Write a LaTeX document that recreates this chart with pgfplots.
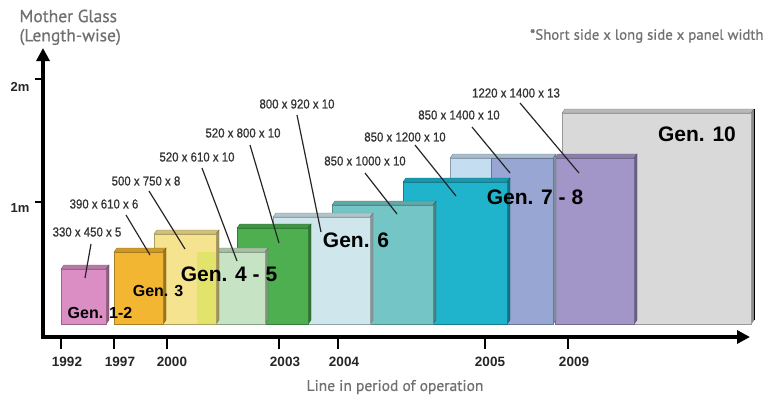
\documentclass[border=0pt]{standalone}
\usepackage{pgfplots}
\pgfplotsset{compat=1.18}
\usepackage{fontspec}
\setmainfont{Liberation Sans}
\newfontfamily\din[FakeBold=0.6]{PT Sans}
\newfontfamily\narrow[FakeStretch=0.88,FakeBold=0.8]{Liberation Sans}
\usetikzlibrary{arrows.meta}

\definecolor{cpink}{HTML}{DA8EC4}
\definecolor{corange}{HTML}{F2B632}
\definecolor{cyellow}{HTML}{F6E38F}
\definecolor{cyg}{HTML}{E2E36B}
\definecolor{clgreen}{HTML}{C6E3C3}
\definecolor{cgreen}{HTML}{4DAF50}
\definecolor{clblue}{HTML}{CFE7EC}
\definecolor{cteal}{HTML}{73C6C5}
\definecolor{ccyan}{HTML}{1FB3CC}
\definecolor{clblueb}{HTML}{C4DDF0}
\definecolor{cperi}{HTML}{97A6D2}
\definecolor{cpurple}{HTML}{A295C8}
\definecolor{cgray}{HTML}{D9D9D9}
\definecolor{txtgray}{HTML}{707070}

% glass box: x-left, x-right, top (image px from top), colour
\newcommand{\gbox}[4]{%
  \pgfmathsetmacro{\bT}{397-#3}%
  \pgfmathsetmacro{\bTT}{\bT+4}%
  \pgfmathsetmacro{\bXa}{#1+3}%
  \pgfmathsetmacro{\bXb}{#2+3}%
  \addplot[fill=#4!85!black, draw=#4!60!black, line width=0.4pt] coordinates {(#1,\bT) (\bXa,\bTT) (\bXb,\bTT) (#2,\bT)} --cycle;
  \addplot[fill=#4!65!black, draw=#4!50!black, line width=0.4pt] coordinates {(#2,73) (#2,\bT) (\bXb,\bTT) (\bXb,77)} --cycle;
  \addplot[fill=#4, draw=#4!70!black, line width=0.4pt] coordinates {(#1,73) (#2,73) (#2,\bT) (#1,\bT)} --cycle;
}

\begin{document}
\begin{tikzpicture}
\begin{axis}[width=767pt, height=397pt, scale only axis,
  xmin=0, xmax=767, ymin=0, ymax=397, hide axis, clip=false, no markers]
\path (rel axis cs:0,0) rectangle (rel axis cs:1,1);

% boxes, back to front
\gbox{562}{751}{113}{cgray}
\addplot[draw=black, line width=0.8pt] coordinates {(754,77) (754,288)};
\gbox{555}{634}{158}{cpurple}
\gbox{450}{553}{158}{clblueb}
\addplot[fill=cperi, draw=cperi!70!black, line width=0.4pt] coordinates {(491,73) (553,73) (553,239) (491,239)} --cycle;
\gbox{403}{507}{182}{ccyan}
\gbox{332}{433}{205}{cteal}
\gbox{273}{370}{217}{clblue}
\gbox{237}{308}{228}{cgreen}
\gbox{197}{265}{252}{clgreen}
\gbox{154}{216}{234}{cyellow}
\addplot[fill=cyg, draw=none] coordinates {(197.4,73.4) (215.6,73.4) (215.6,145) (197.4,145)} --cycle;
\gbox{114}{163}{252}{corange}
\gbox{61}{106}{269}{cpink}

% leader lines
\addplot[black!85, line width=1.2pt] coordinates {(91,153) (85,119)};
\addplot[black!85, line width=1.2pt] coordinates {(126,182) (150,142)};
\addplot[black!85, line width=1.2pt] coordinates {(149,206) (185,148)};
\addplot[black!85, line width=1.2pt] coordinates {(202,229) (237,136)};
\addplot[black!85, line width=1.2pt] coordinates {(250,252) (279,154)};
\addplot[black!85, line width=1.2pt] coordinates {(297,282) (321,165)};
\addplot[black!85, line width=1.2pt] coordinates {(365,224) (397,183)};
\addplot[black!85, line width=1.2pt] coordinates {(415,252) (456,201)};
\addplot[black!85, line width=1.2pt] coordinates {(472,270) (510,224)};
\addplot[black!85, line width=1.2pt] coordinates {(520,294) (579,224)};

% axes
\draw[line width=3.4pt, line join=miter, {Triangle[length=13pt,width=13pt]}-{Triangle[length=13pt,width=13pt]}]
  (axis cs:43,349) -- (axis cs:43,60) -- (axis cs:750,60);
\foreach \xx in {61,114,167,279,338,485,568}{
  \edef\tmp{\noexpand\draw[line width=2.4pt] (axis cs:\xx,60) -- (axis cs:\xx,48);}\tmp
}
\draw[line width=2.4pt] (axis cs:35,195) -- (axis cs:43,195);
\draw[line width=2.4pt] (axis cs:35,318) -- (axis cs:43,318);
\node[font=\bfseries\fontsize{13}{15}\selectfont, text=black!85] at (axis cs:20,189) {1m};
\node[font=\bfseries\fontsize{13}{15}\selectfont, text=black!85] at (axis cs:20,310) {2m};

% years
\foreach \xx/\yy in {67/1992,120/1997,172/2000,285/2003,344/2004,490/2005,574/2009}{
  \edef\tmp{\noexpand\node[font=\noexpand\bfseries\noexpand\fontsize{13.5}{15}\noexpand\selectfont, text=black!85] at (axis cs:\xx,35) {\yy};}\tmp
}

% dimension labels
\begin{scope}[every node/.style={font=\narrow\fontsize{13}{15}\selectfont, text=black!80}]
\node at (axis cs:87,165) {330 x 450 x 5};
\node at (axis cs:104,193) {390 x 610 x 6};
\node at (axis cs:146,216) {500 x 750 x 8};
\node at (axis cs:197,240) {520 x 610 x 10};
\node at (axis cs:243,264) {520 x 800 x 10};
\node at (axis cs:297,293) {800 x 920 x 10};
\node at (axis cs:365,236) {850 x 1000 x 10};
\node at (axis cs:405,260) {850 x 1200 x 10};
\node at (axis cs:459,282) {850 x 1400 x 10};
\node at (axis cs:516,304) {1220 x 1400 x 13};
\end{scope}

% generation labels
\node[font=\bfseries\fontsize{16}{18}\selectfont] at (axis cs:100,84) {Gen. 1-2};
\node[font=\bfseries\fontsize{16}{18}\selectfont] at (axis cs:158,106) {Gen. 3};
\node[font=\bfseries\fontsize{21}{24}\selectfont] at (axis cs:229,123) {Gen. 4 - 5};
\node[font=\bfseries\fontsize{21}{24}\selectfont] at (axis cs:356,157) {Gen. 6};
\node[font=\bfseries\fontsize{21}{24}\selectfont] at (axis cs:535,200) {Gen. 7 - 8};
\node[font=\bfseries\fontsize{21}{24}\selectfont] at (axis cs:697,263) {Gen. 10};

% texts
\node[font=\din\fontsize{17.5}{20}\selectfont, text=txtgray, anchor=west] at (axis cs:16,381) {Mother Glass};
\node[font=\din\fontsize{17.5}{20}\selectfont, text=txtgray, anchor=west] at (axis cs:16,360) {(Length-wise)};
\node[font=\din\fontsize{14.8}{17}\selectfont, text=txtgray, anchor=east] at (axis cs:767,361) {*Short side x long side x panel width};
\node[font=\din\fontsize{15.5}{18}\selectfont, text=txtgray] at (axis cs:395,10) {Line in period of operation};
\end{axis}
\end{tikzpicture}
\end{document}
